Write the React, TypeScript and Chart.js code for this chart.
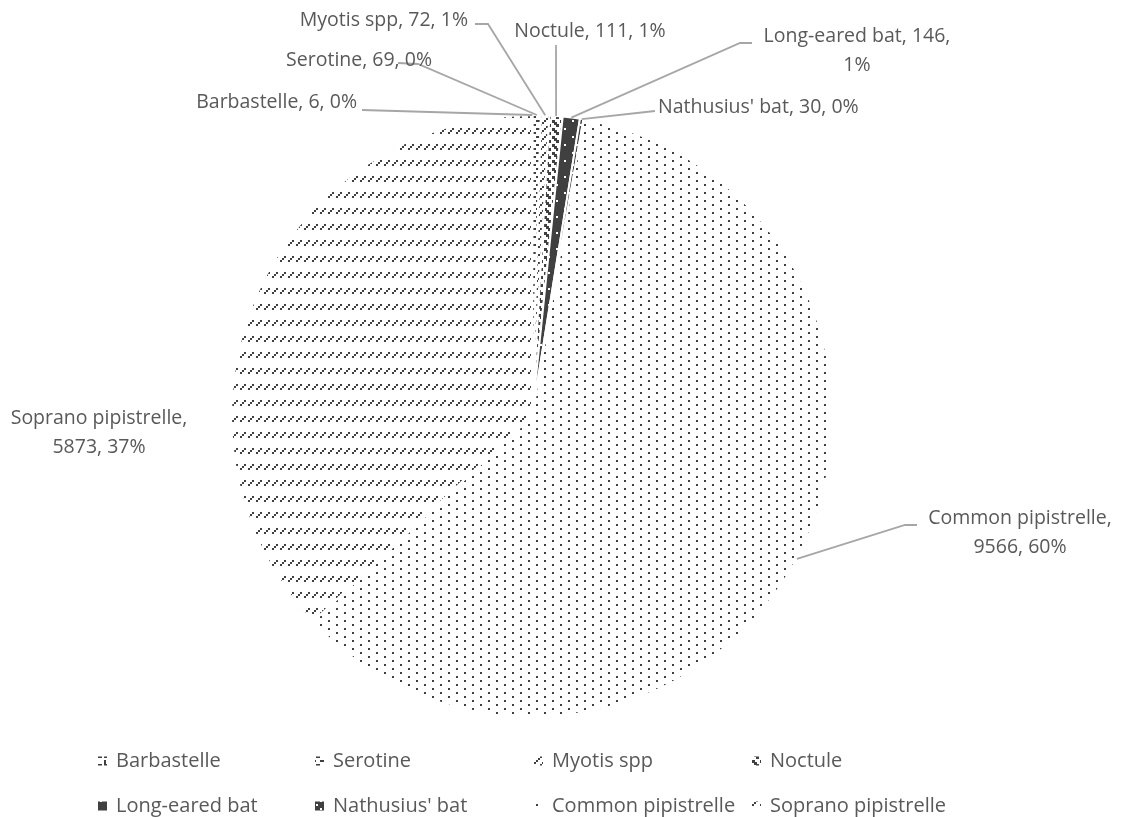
import React, { useEffect, useRef } from "react";
import { Chart, registerables } from "chart.js";

Chart.register(...registerables);

// ---------------- data ----------------
const SPECIES = [
  "Barbastelle",
  "Serotine",
  "Myotis spp",
  "Noctule",
  "Long-eared bat",
  "Nathusius' bat",
  "Common pipistrelle",
  "Soprano pipistrelle",
];
const COUNTS = [6, 69, 72, 111, 146, 30, 9566, 5873];

// ---------------- style / layout ----------------
const TEXT_COLOR = "#595959";
const LINE_COLOR = "#a6a6a6";
const INK = "#404040";
const FONT_FAMILY = "'Open Sans', 'Noto Sans', sans-serif";
const FONT_SIZE = 19.5;
const LEGEND_FONT_SIZE = 20;
const LINE_HEIGHT = 29;

type Align = "left" | "right" | "center";
// text anchor, alignment, how many label parts on the first line, leader-line elbows
const LABEL_LAYOUT: { x: number; y: number; align: Align; firstLine: number; leader: number[][] }[] = [
  { x: 357, y: 102, align: "right", firstLine: 3, leader: [[362, 110]] },
  { x: 432, y: 60, align: "right", firstLine: 3, leader: [[398, 63], [418, 64]] },
  { x: 468, y: 20, align: "right", firstLine: 3, leader: [[475, 24], [488, 24]] },
  { x: 590, y: 31, align: "center", firstLine: 3, leader: [[556, 45]] },
  { x: 857, y: 36, align: "center", firstLine: 2, leader: [[752, 43], [740, 43]] },
  { x: 658, y: 107, align: "left", firstLine: 3, leader: [[655, 111]] },
  { x: 1020, y: 518, align: "center", firstLine: 1, leader: [[917, 525], [905, 525]] },
  { x: 99, y: 418, align: "center", firstLine: 1, leader: [] },
];

const LEGEND_COL_X = [116, 333, 552, 770];
const LEGEND_ROW_Y = [761, 806];
const LEGEND_COLS = 4;
const MARKER = 9;

function percents(values: number[]): number[] {
  const total = values.reduce((a, b) => a + b, 0);
  const raw = values.map((v) => (v / total) * 100);
  const out = raw.map((r) => Math.floor(r));
  const rem = 100 - out.reduce((a, b) => a + b, 0);
  const order = raw
    .map((r, i) => [r - Math.floor(r), i])
    .sort((a, b) => b[0] - a[0]);
  for (let k = 0; k < rem; k++) out[order[k][1]]++;
  return out;
}

function tile(w: number, h: number, bg: string, fg: string, rects: number[][]) {
  const c = document.createElement("canvas");
  c.width = w;
  c.height = h;
  const g = c.getContext("2d")!;
  g.fillStyle = bg;
  g.fillRect(0, 0, w, h);
  g.fillStyle = fg;
  rects.forEach(([x, y, rw, rh]) => g.fillRect(x, y, rw, rh));
  return c;
}

function makePatterns(ctx: CanvasRenderingContext2D): (CanvasPattern | string)[] {
  const tiles = [
    tile(8, 8, "#fff", INK, [[0, 0, 2, 6], [0, 4, 6, 2]]), // Barbastelle
    tile(8, 8, "#fff", INK, [[0, 0, 4, 2], [4, 4, 4, 2]]), // Serotine
    tile(8, 8, "#fff", INK, [[0, 0, 2, 2], [4, 4, 2, 2], [2, 6, 2, 2], [6, 2, 2, 2]]), // Myotis
    tile(8, 8, "#fff", INK, [[0, 0, 3, 3], [2, 2, 3, 3], [4, 4, 3, 3]]), // Noctule
    tile(16, 16, INK, "#fff", [[4, 0, 2, 2], [12, 8, 2, 2]]), // Long-eared
    tile(8, 8, INK, "#fff", [[0, 0, 2, 2], [4, 4, 2, 2]]), // Nathusius
    tile(16, 16, "#fff", INK, [[0, 0, 2, 2], [8, 4, 2, 2], [0, 8, 2, 2], [8, 12, 2, 2]]), // Common
    tile(8, 16, "#fff", INK, [[0, 4, 2, 2], [2, 2, 2, 2], [4, 0, 2, 2]]), // Soprano
  ];
  return tiles.map((t) => ctx.createPattern(t, "repeat") || INK);
}

export default function App() {
  const ref = useRef<HTMLCanvasElement | null>(null);

  useEffect(() => {
    const canvas = ref.current!;
    const ctx = canvas.getContext("2d")!;
    const patterns = makePatterns(ctx);
    const pcts = percents(COUNTS);

    const overlay = {
      id: "overlay",
      afterDraw(chart: any) {
        const c = chart.ctx as CanvasRenderingContext2D;
        const meta = chart.getDatasetMeta(0);
        c.save();
        c.font = `${FONT_SIZE}px ${FONT_FAMILY}`;
        c.textBaseline = "middle";
        // data labels with leader lines
        meta.data.forEach((el: any, i: number) => {
          const p = el.getProps(["x", "y", "startAngle", "endAngle", "outerRadius"], true);
          const mid = (p.startAngle + p.endAngle) / 2;
          const ax = p.x + Math.cos(mid) * p.outerRadius;
          const ay = p.y + Math.sin(mid) * p.outerRadius;
          const lay = LABEL_LAYOUT[i];
          if (lay.leader.length) {
            c.strokeStyle = LINE_COLOR;
            c.lineWidth = 1.8;
            c.beginPath();
            c.moveTo(lay.leader[0][0], lay.leader[0][1]);
            for (let k = 1; k < lay.leader.length; k++) c.lineTo(lay.leader[k][0], lay.leader[k][1]);
            c.lineTo(ax, ay);
            c.stroke();
          }
          const parts = [SPECIES[i], String(COUNTS[i]), `${pcts[i]}%`];
          const lines = [parts.slice(0, lay.firstLine).join(", ")];
          if (lay.firstLine < parts.length) {
            lines[0] += ",";
            lines.push(parts.slice(lay.firstLine).join(", "));
          }
          c.fillStyle = TEXT_COLOR;
          c.textAlign = lay.align;
          lines.forEach((ln, k) => c.fillText(ln, lay.x, lay.y + k * LINE_HEIGHT));
        });
        // legend
        c.font = `${LEGEND_FONT_SIZE}px ${FONT_FAMILY}`;
        c.textAlign = "left";
        SPECIES.forEach((name, i) => {
          const col = i % LEGEND_COLS;
          const row = Math.floor(i / LEGEND_COLS);
          const tx = LEGEND_COL_X[col];
          const ty = LEGEND_ROW_Y[row];
          c.fillStyle = patterns[i] as any;
          c.fillRect(tx - 18, ty - MARKER / 2, MARKER, MARKER);
          c.fillStyle = TEXT_COLOR;
          c.fillText(name, tx, ty);
        });
        c.restore();
      },
    };

    const chart = new Chart(canvas, {
      type: "pie",
      data: {
        labels: SPECIES,
        datasets: [
          {
            data: COUNTS,
            backgroundColor: patterns as any,
            borderColor: "#ffffff",
            borderWidth: 2,
          },
        ],
      },
      options: {
        responsive: false,
        animation: false,
        devicePixelRatio: 1,
        events: [],
        layout: { padding: { top: 114, bottom: 99, left: 230, right: 291 } },
        plugins: {
          legend: { display: false },
          tooltip: { enabled: false },
          title: { display: false },
        },
      },
      plugins: [overlay],
    });
    return () => chart.destroy();
  }, []);

  return (
    <div style={{ position: "fixed", left: 0, top: 0, width: 1125, height: 817, background: "#fff" }}>
      <canvas ref={ref} width={1125} height={817} style={{ display: "block" }} />
    </div>
  );
}
